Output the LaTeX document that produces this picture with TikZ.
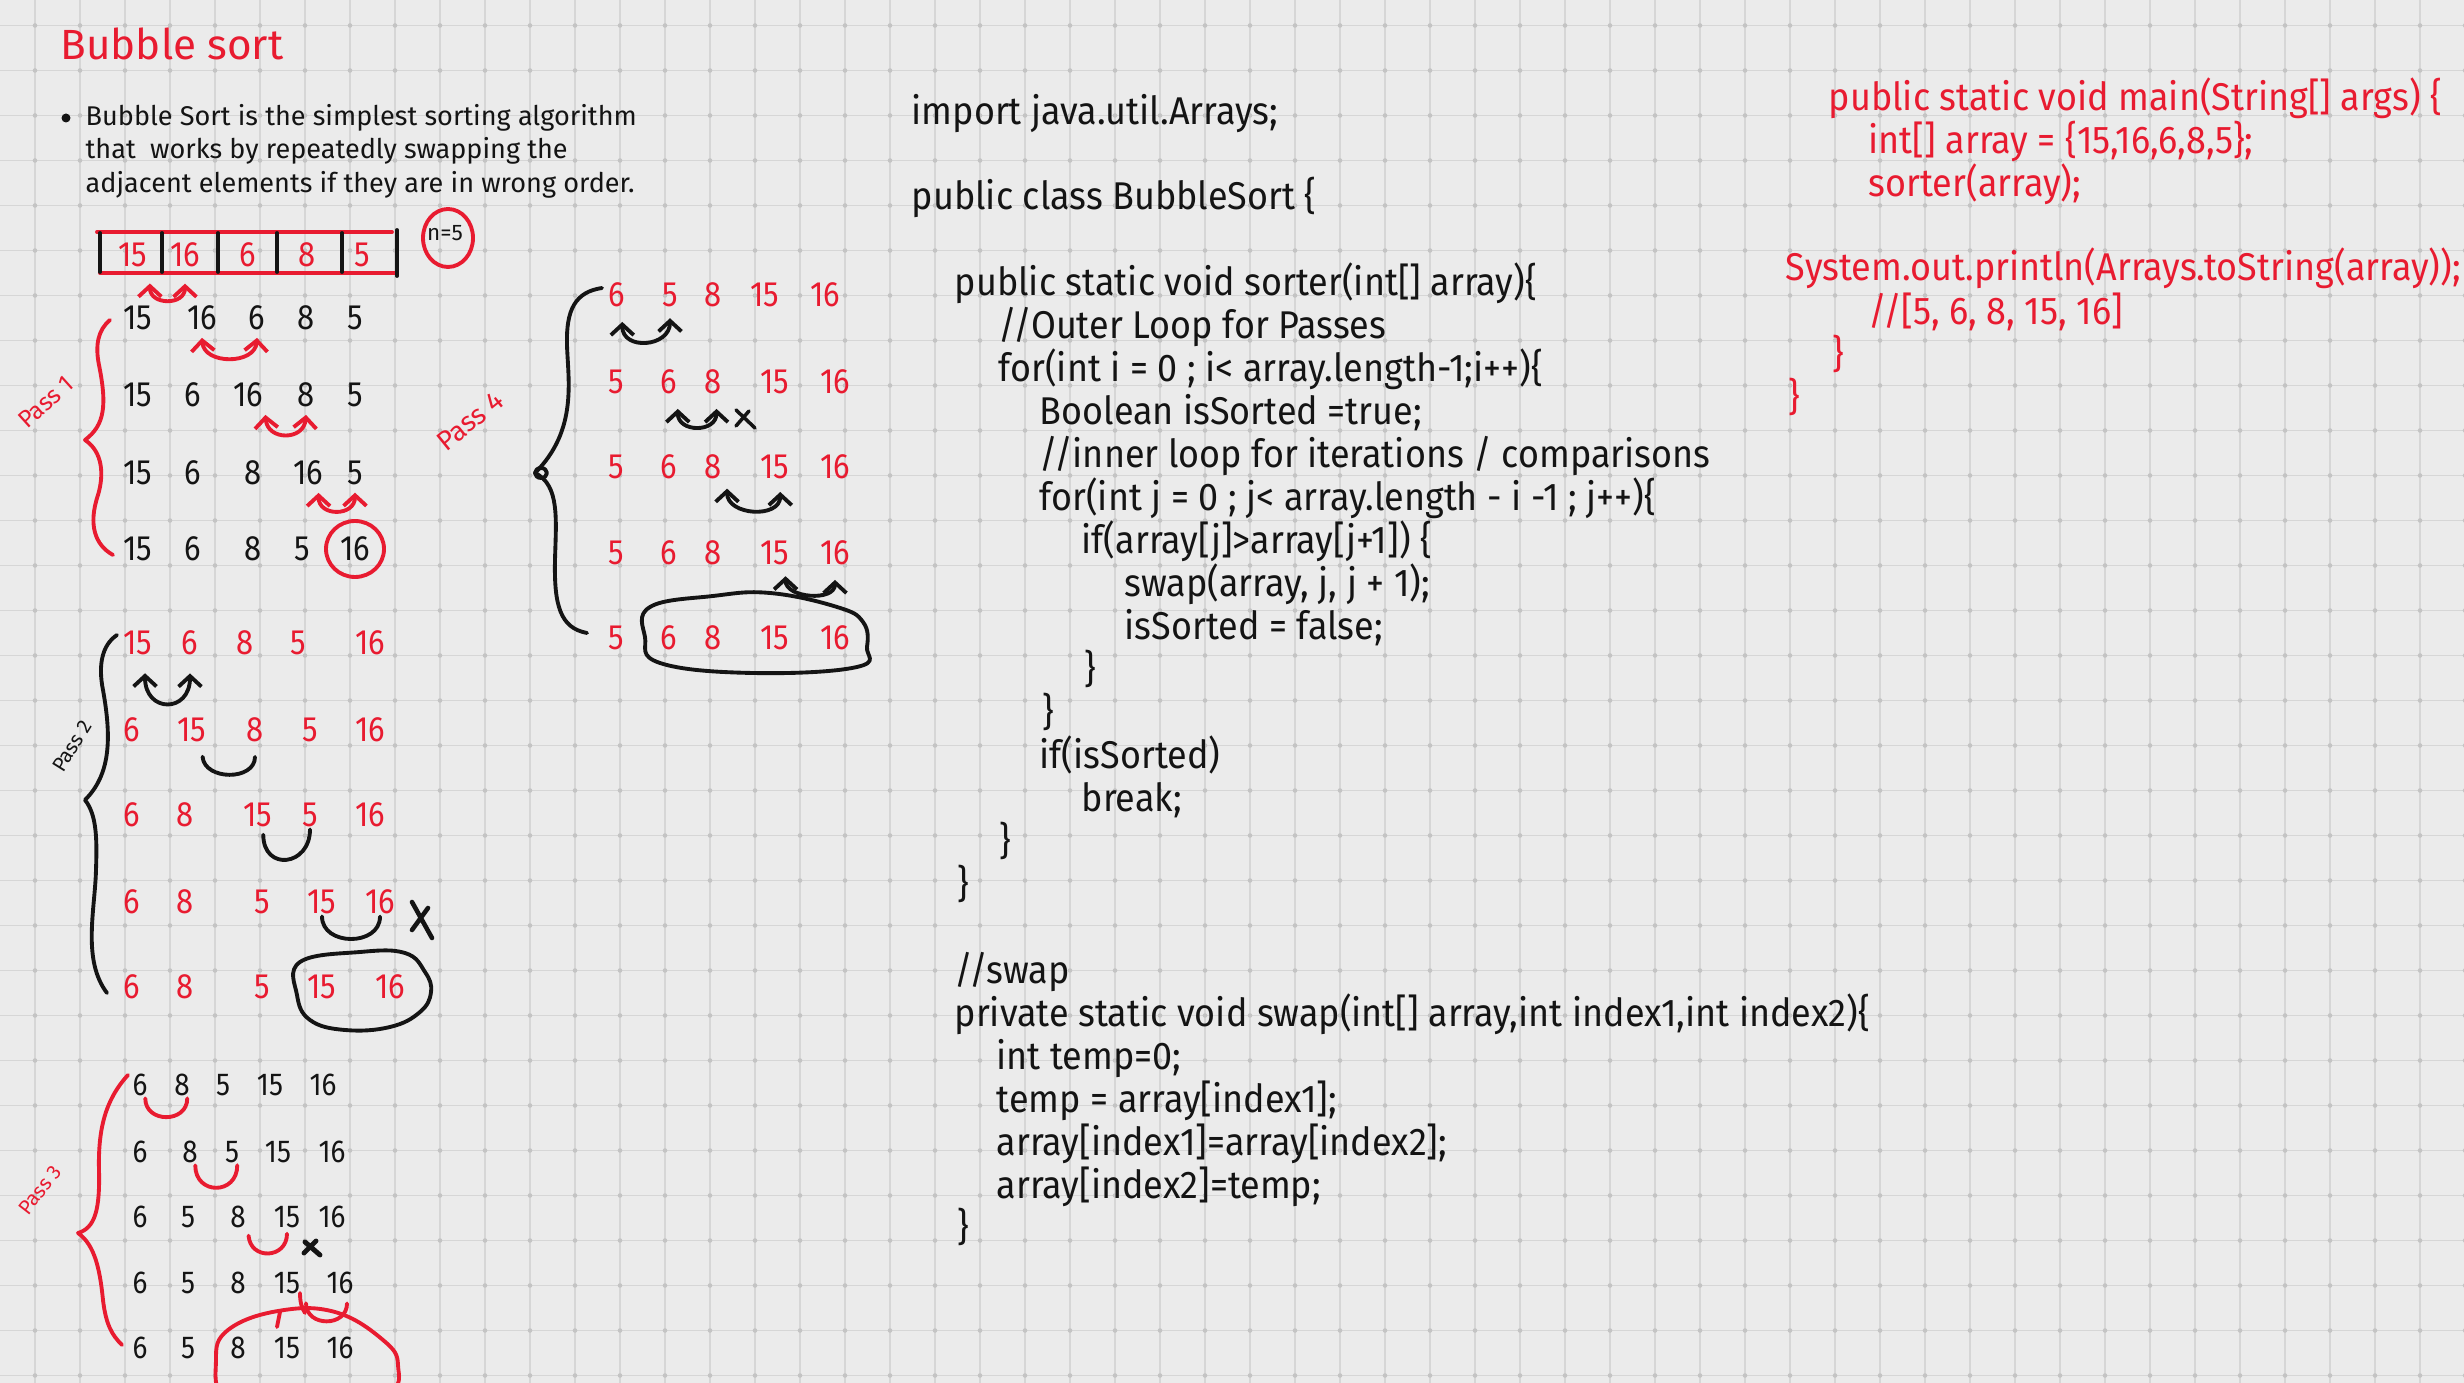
\documentclass[tikz,border=0pt]{standalone}
\usepackage{fontspec}
\usepackage{xcolor}
\usepackage{tikz}
\usetikzlibrary{arrows.meta}

\newfontfamily\hand{Fira Sans}
\newfontfamily\handcode{Fira Sans}[FakeStretch=0.93]
\newfontfamily\handnum{Fira Sans}[FakeStretch=0.88]

\definecolor{paper}{RGB}{235,235,235}
\definecolor{gridln}{RGB}{214,214,214}
\definecolor{griddot}{RGB}{196,196,196}
\definecolor{ink}{RGB}{20,20,20}
\definecolor{hred}{RGB}{232,27,48}

\begin{document}
\begin{tikzpicture}[x=0.01cm,y=-0.01cm,
  >={Straight Barb[length=3pt,width=6.5pt]},
  gridline/.style={draw=gridln,line width=0.5pt},
  inkline/.style={draw=ink,line width=1.1pt,line cap=round,line join=round},
  redline/.style={inkline,draw=hred},
  swapink/.style={inkline,<->},
  swapred/.style={redline,<->},
  num/.style={font=\handnum\fontsize{10}{11}\selectfont,text=ink,inner sep=0.5pt},
  rednum/.style={num,text=hred},
  smallnum/.style={num,font=\handnum\fontsize{9}{10}\selectfont},
  code/.style={font=\handcode\fontsize{11}{13}\selectfont,text=ink,anchor=west,
    inner sep=0pt,text height=8pt,text depth=2.5pt},
  redcode/.style={code,text=hred},
  note/.style={font=\hand\fontsize{7.7}{9.5}\selectfont,text=ink,anchor=west,
    inner sep=0pt,text height=6pt,text depth=2pt},
  headline/.style={font=\hand\fontsize{12}{14}\selectfont,text=hred,anchor=west,inner sep=0pt},
  passlbl/.style={font=\hand\fontsize{6.5}{8}\selectfont,inner sep=0pt}]

  % paper with grid
  \useasboundingbox (0,0) rectangle (2464,1383);
  \clip (0,0) rectangle (2464,1383);
  \fill[paper] (0,0) rectangle (2464,1383);
  \foreach \gx in {0,...,54}
    \draw[gridline] ({35+45*\gx},0) -- ({35+45*\gx},1383);
  \foreach \gy in {0,...,30}
    \draw[gridline] (0,{25.5+45*\gy}) -- (2464,{25.5+45*\gy});
  \foreach \gx in {0,...,54}
    \foreach \gy in {0,...,30}
      \fill[griddot] ({35+45*\gx},{25.5+45*\gy}) circle (2.3);

  % title and definition
  \node[headline] (title) at (60,44) {Bubble sort};
  \fill[ink] (66,118) circle (4.5);
  \node[note] (defn1) at (85,118) {Bubble Sort is the simplest sorting algorithm};
  \node[note] (defn2) at (85,151) {that\ \ works by repeatedly swapping the};
  \node[note] (defn3) at (85,185) {adjacent elements if they are in wrong order.};

  % the array
  \draw[redline] (97,232) -- (392,232);
  \draw[redline] (100,273) -- (397,273);
  \foreach \bx in {100,162,218,277,342}
    \draw[inkline] (\bx,233) -- (\bx,272);
  \draw[inkline] (397,230) -- (397,276);
  \foreach \v/\xx [count=\c] in {15/133,16/185,6/248,8/307,5/362}
    \node[rednum] (arr-\c) at (\xx,255) {\v};
  \draw[swapred] ([yshift=-4pt]arr-1.south east) .. controls +(0,22) and +(0,22) .. ([yshift=-4pt]arr-2.south);
  \node[font=\hand\fontsize{6.4}{7}\selectfont,text=ink,inner sep=0pt] (nval) at (445,233) {n=5};
  \draw[redline] (448,238) ellipse [x radius=25,y radius=29];

  % pass 1
  \foreach \v/\xx [count=\c] in {15/138,16/202,6/257,8/306,5/355}
    \node[num] (pa-1-\c) at (\xx,318) {\v};
  \foreach \v/\xx [count=\c] in {15/138,6/193,16/248,8/306,5/355}
    \node[num] (pa-2-\c) at (\xx,395) {\v};
  \foreach \v/\xx [count=\c] in {15/138,6/193,8/253,16/308,5/355}
    \node[num] (pa-3-\c) at (\xx,473) {\v};
  \foreach \v/\xx [count=\c] in {15/138,6/193,8/253,5/302,16/355}
    \node[num] (pa-4-\c) at (\xx,549) {\v};
  \draw[swapred] ([yshift=-1.5pt]pa-1-2.south) .. controls +(2,27) and +(-2,27) .. ([yshift=-1.5pt]pa-1-3.south);
  \draw[swapred] ([yshift=-1.5pt]pa-2-3.south east) .. controls +(2,26) and +(-2,26) .. ([yshift=-1.5pt]pa-2-4.south);
  \draw[swapred] ([xshift=3pt,yshift=-1.5pt]pa-3-4.south) .. controls +(0,24) and +(0,24) .. ([yshift=-1.5pt]pa-3-5.south);
  \draw[redline] (pa-4-5) ellipse [x radius=29,y radius=28];
  \draw[redline] (110,320) .. controls (98,330) and (95,345) .. (99,365)
    .. controls (107,405) and (105,425) .. (85,440)
    .. controls (103,452) and (104,475) .. (98,495)
    .. controls (88,525) and (95,545) .. (113,555);
  \node[passlbl,text=hred,rotate=42,font=\hand\fontsize{6.9}{8}\selectfont] (pass1) at (46,402) {Pass 1};

  % pass 2
  \foreach \v/\xx [count=\c] in {15/138,6/190,8/245,5/298,16/370}
    \node[rednum] (pb-1-\c) at (\xx,643) {\v};
  \foreach \v/\xx [count=\c] in {6/132,15/192,8/255,5/310,16/370}
    \node[rednum] (pb-2-\c) at (\xx,730) {\v};
  \foreach \v/\xx [count=\c] in {6/132,8/185,15/258,5/310,16/370}
    \node[rednum] (pb-3-\c) at (\xx,815) {\v};
  \foreach \v/\xx [count=\c] in {6/132,8/185,5/262,15/322,16/380}
    \node[rednum] (pb-4-\c) at (\xx,902) {\v};
  \foreach \v/\xx [count=\c] in {6/132,8/185,5/262,15/322,16/390}
    \node[rednum] (pb-5-\c) at (\xx,987) {\v};
  \draw[swapink] ([xshift=2pt,yshift=-4.5pt]pb-1-1.south) .. controls +(0,40) and +(0,40) .. ([yshift=-4.5pt]pb-1-2.south);
  \draw[inkline] ([xshift=3pt,yshift=-3.5pt]pb-2-2.south) .. controls +(2,24) and +(0,24) .. ([yshift=-3.5pt]pb-2-3.south);
  \draw[inkline] ([xshift=1.5pt,yshift=-1.5pt]pb-3-3.south) .. controls +(0,37) and +(0,37) .. (pb-3-4.south);
  \draw[inkline] (pb-4-4.south) .. controls +(0,30) and +(0,30) .. (pb-4-5.south);
  \draw[inkline,line width=1.3pt] (412,902) -- (432,938) (428,908) -- (412,930);
  \draw[inkline] plot[smooth cycle,tension=0.7] coordinates {(300,962) (360,952) (405,953) (425,972) (431,992) (420,1012) (390,1027) (345,1030) (310,1020) (297,995)};
  \draw[inkline] (117,635) .. controls (102,645) and (98,665) .. (103,690)
    .. controls (112,740) and (110,775) .. (85,800)
    .. controls (97,815) and (97,840) .. (96,870)
    .. controls (95,910) and (82,960) .. (107,993);
  \node[passlbl,text=ink,rotate=58,font=\hand\fontsize{5.8}{7}\selectfont] (pass2) at (72,746) {Pass 2};

  % pass 3
  \foreach \v/\xx [count=\c] in {6/140,8/182,5/223,15/270,16/323}
    \node[smallnum] (pc-1-\c) at (\xx,1085) {\v};
  \foreach \v/\xx [count=\c] in {6/140,8/190,5/232,15/278,16/332}
    \node[smallnum] (pc-2-\c) at (\xx,1152) {\v};
  \foreach \v/\xx [count=\c] in {6/140,5/188,8/238,15/287,16/332}
    \node[smallnum] (pc-3-\c) at (\xx,1217) {\v};
  \foreach \v/\xx [count=\c] in {6/140,5/188,8/238,15/287,16/340}
    \node[smallnum] (pc-4-\c) at (\xx,1283) {\v};
  \foreach \v/\xx [count=\c] in {6/140,5/188,8/238,15/287,16/340}
    \node[smallnum] (pc-5-\c) at (\xx,1348) {\v};
  \draw[redline] ([xshift=1.5pt]pc-1-1.south) .. controls +(0,25) and +(0,25) .. ([xshift=1.5pt]pc-1-2.south);
  \draw[redline] ([xshift=1.5pt]pc-2-2.south) .. controls +(0,30) and +(0,30) .. ([xshift=1.5pt]pc-2-3.south);
  \draw[redline] ([xshift=3pt,yshift=-1.5pt]pc-3-3.south) .. controls +(2,25) and +(0,25) .. ([yshift=-1pt]pc-3-4.south);
  \draw[inkline,line width=1.4pt] (305,1242) -- (320,1255) (316,1241) -- (304,1253);
  \draw[redline] ([xshift=1pt,yshift=-2pt]pc-4-4.south east) .. controls +(0,24) and +(0,24) .. ([xshift=2pt,yshift=-2pt]pc-4-5.south);
  \draw[redline] (300,1293) .. controls (300,1303) and (302,1308) .. (305,1313);
  \draw[redline] (280,1312) -- (277,1327);
  \draw[redline] plot[smooth cycle,tension=0.7] coordinates {(278,1311) (335,1312) (383,1340) (398,1365) (385,1395) (300,1410) (228,1400) (216,1360) (228,1330)};
  \draw[redline] (128,1075) .. controls (105,1100) and (98,1130) .. (99,1170)
    .. controls (100,1210) and (95,1228) .. (78,1233)
    .. controls (95,1245) and (100,1270) .. (103,1300)
    .. controls (106,1325) and (112,1335) .. (122,1345);
  \node[passlbl,text=hred,rotate=52,font=\hand\fontsize{5.8}{7}\selectfont] (pass3) at (40,1190) {Pass 3};

  % pass 4
  \foreach \v/\xx [count=\c] in {6/617,5/670,8/713,15/765,16/825}
    \node[rednum] (pd-1-\c) at (\xx,295) {\v};
  \foreach \r/\yy in {2/382,3/467,4/553,5/638}
    \foreach \v/\xx [count=\c] in {5/616,6/669,8/713,15/775,16/835}
      \node[rednum] (pd-\r-\c) at (\xx,\yy) {\v};
  \draw[swapink] ([xshift=1.5pt,yshift=-3.5pt]pd-1-1.south) .. controls +(0,29) and +(0,29) .. ([yshift=-2.5pt]pd-1-2.south);
  \draw[swapink] ([xshift=2.5pt,yshift=-3.5pt]pd-2-2.south) .. controls +(0,24) and +(0,24) .. ([xshift=1pt,yshift=-3.5pt]pd-2-3.south);
  \draw[inkline,line width=1pt] (736,410) -- (755,428) (749,411) -- (736,426);
  \draw[swapink] ([xshift=4pt,yshift=-2pt]pd-3-3.south) .. controls +(0,27) and +(0,27) .. ([xshift=1.5pt,yshift=-3pt]pd-3-4.south);
  \draw[swapink] ([xshift=3pt,yshift=-2.5pt]pd-4-4.south) .. controls +(0,22) and +(0,22) .. ([yshift=-3.5pt]pd-4-5.south);
  \draw[inkline] plot[smooth cycle,tension=0.7] coordinates {(650,607) (713,596) (770,593) (837,607) (863,622) (867,647) (857,667) (753,673) (660,663) (645,637)};
  \draw[inkline] (602,288) .. controls (575,292) and (566,310) .. (567,345)
    .. controls (568,380) and (578,430) .. (535,473)
    .. controls (560,485) and (556,520) .. (555,560)
    .. controls (554,605) and (560,628) .. (587,633);
  \draw[inkline] (541,473) ellipse [x radius=6,y radius=5];
  \node[passlbl,text=hred,rotate=39,font=\hand\fontsize{7.8}{9}\selectfont] (pass4) at (470,421) {Pass 4};

  % the class
  \node[code] (imp) at (911,115) {import java.util.Arrays;};
  \node[code] (cls) at (911,200) {public class BubbleSort \{};
  \node[code] (sorter) at (954,286) {public static void sorter(int[] array)\{};
  \node[code] (cmtouter) at (998,329) {//Outer Loop for Passes};
  \node[code] (outer) at (998,372) {for(int i = 0 ; i< array.length-1;i++)\{};
  \node[code] (flag) at (1039,415) {Boolean isSorted =true;};
  \node[code] (cmtinner) at (1039,458) {//inner loop for iterations / comparisons};
  \node[code] (inner) at (1039,501) {for(int j = 0 ; j< array.length - i -1 ; j++)\{};
  \node[code] (cond) at (1081,544) {if(array[j]>array[j+1]) \{};
  \node[code] (call) at (1124,587) {swap(array, j, j + 1);};
  \node[code] (reset) at (1124,630) {isSorted = false;};
  \node[code] (endif) at (1084,673) {\}};
  \node[code] (endinner) at (1042,716) {\}};
  \node[code] (check) at (1039,759) {if(isSorted)};
  \node[code] (brk) at (1081,802) {break;};
  \node[code] (endouter) at (999,845) {\}};
  \node[code] (endsorter) at (957,888) {\}};
  \node[code] (cmtswap) at (954,974) {//swap};
  \node[code] (swapdef) at (954,1017) {private static void swap(int[] array,int index1,int index2)\{};
  \node[code] (tmp) at (996,1060) {int temp=0;};
  \node[code] (save) at (996,1103) {temp = array[index1];};
  \node[code] (copy) at (996,1146) {array[index1]=array[index2];};
  \node[code] (restore) at (996,1189) {array[index2]=temp;};
  \node[code] (endswap) at (957,1231) {\}};

  % main method
  \node[redcode] (mainsig) at (1828,101) {public static void main(String[] args) \{};
  \node[redcode] (arrdecl) at (1868,144) {int[] array = \{15,16,6,8,5\};};
  \node[redcode] (sortcall) at (1868,187) {sorter(array);};
  \node[redcode] (printcall) at (1785,271) {System.out.println(Arrays.toString(array));};
  \node[redcode] (result) at (1868,315) {//[5, 6, 8, 15, 16]};
  \node[redcode] (endmain) at (1832,358) {\}};
  \node[redcode] (endcls) at (1788,401) {\}};
\end{tikzpicture}
\end{document}
